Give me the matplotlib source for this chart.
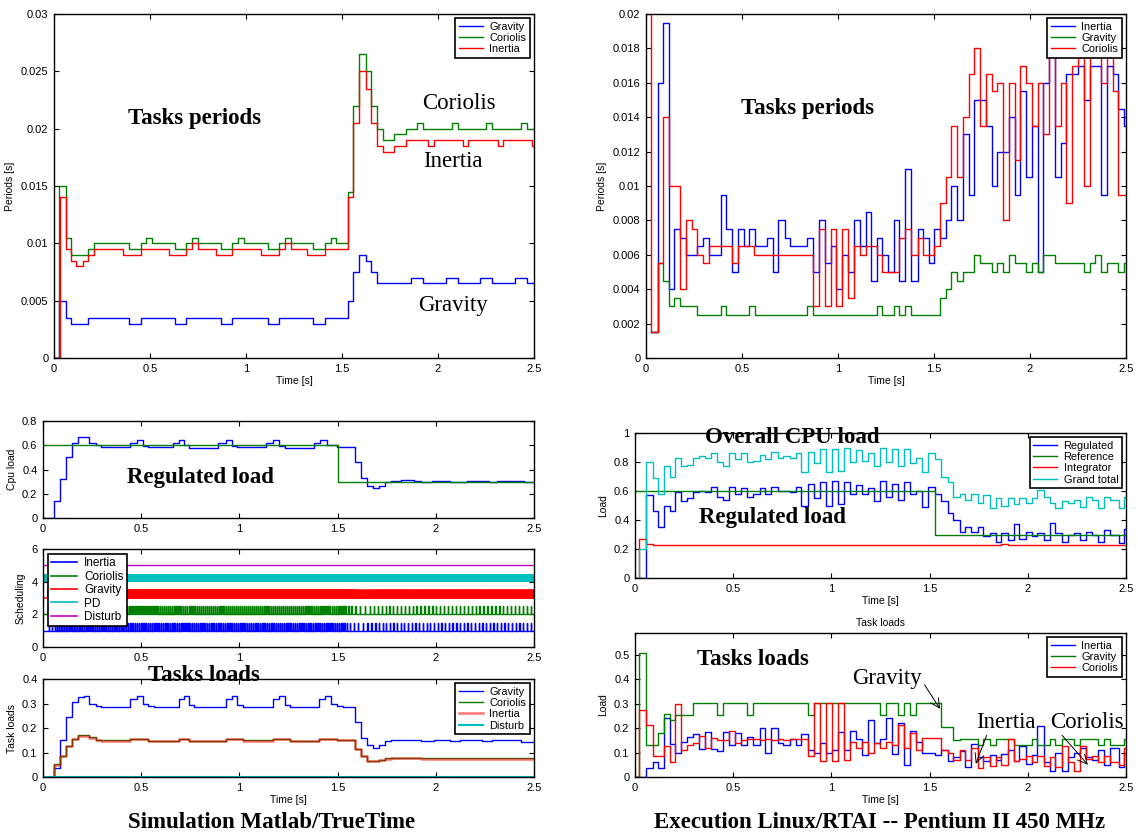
import bisect
import matplotlib
matplotlib.use('Agg')
import matplotlib.pyplot as plt
from matplotlib.lines import Line2D

plt.rcParams['font.family'] = ['Liberation Sans', 'DejaVu Sans']
plt.rcParams['font.size'] = 8

BLUE, GREEN, RED = '#0000ff', '#008000', '#ff0000'
CYAN, MAGENTA, OLIVE = '#00bfbf', '#bf00bf', '#bfbf00'
SERIF = 'Liberation Serif'
BIG = 16.5
T_END = 2.5

# ---- Simulation (Matlab/TrueTime): task periods [s], (time, value) step points
sim_gravity_period = [(0, 0), (0.024, 0.005), (0.061, 0.0035), (0.089, 0.003), (0.178, 0.0035),
                      (0.390, 0.003), (0.452, 0.0035), (0.632, 0.003), (0.688, 0.0035), (0.870, 0.003),
                      (0.929, 0.0035), (1.112, 0.003), (1.171, 0.0035), (1.349, 0.003), (1.409, 0.0035),
                      (1.530, 0.005), (1.558, 0.0075), (1.591, 0.009), (1.623, 0.0085), (1.651, 0.0075),
                      (1.682, 0.0065), (1.861, 0.007), (1.920, 0.0065), (2.041, 0.007), (2.102, 0.0065),
                      (2.221, 0.007), (2.283, 0.0065), (2.400, 0.007), (2.463, 0.0065)]
sim_coriolis_period = [(0, 0), (0.024, 0.015), (0.061, 0.0105), (0.089, 0.009), (0.178, 0.0095),
                       (0.210, 0.010), (0.390, 0.0095), (0.452, 0.010), (0.480, 0.0105), (0.513, 0.010),
                       (0.632, 0.0095), (0.688, 0.010), (0.717, 0.0105), (0.749, 0.010), (0.870, 0.0095),
                       (0.929, 0.010), (0.959, 0.0105), (0.991, 0.010), (1.112, 0.0095), (1.171, 0.010),
                       (1.201, 0.0105), (1.232, 0.010), (1.349, 0.0095), (1.409, 0.010), (1.442, 0.0105),
                       (1.470, 0.010), (1.530, 0.0145), (1.558, 0.022), (1.591, 0.0265), (1.623, 0.025),
                       (1.651, 0.022), (1.682, 0.020), (1.712, 0.019), (1.771, 0.0195), (1.831, 0.020),
                       (1.892, 0.0205), (1.920, 0.020), (2.072, 0.0205), (2.102, 0.020), (2.251, 0.0205),
                       (2.283, 0.020), (2.431, 0.0205), (2.463, 0.020)]
sim_inertia_period = [(0, 0), (0.033, 0.014), (0.061, 0.0095), (0.089, 0.0085), (0.117, 0.008),
                      (0.149, 0.0085), (0.178, 0.009), (0.210, 0.0095), (0.359, 0.009), (0.452, 0.0095),
                      (0.600, 0.009), (0.688, 0.0095), (0.717, 0.010), (0.749, 0.0095), (0.842, 0.009),
                      (0.929, 0.0095), (1.080, 0.009), (1.171, 0.0095), (1.201, 0.010), (1.232, 0.0095),
                      (1.320, 0.009), (1.409, 0.0095), (1.530, 0.014), (1.558, 0.0205), (1.591, 0.025),
                      (1.623, 0.0235), (1.651, 0.0205), (1.682, 0.0185), (1.712, 0.018), (1.771, 0.0185),
                      (1.831, 0.019), (1.948, 0.0185), (1.980, 0.019), (2.128, 0.0185), (2.158, 0.019),
                      (2.310, 0.0185), (2.338, 0.019), (2.491, 0.0185)]

# ---- Simulation: CPU load and task loads
sim_cpu_regulated = [(0, 0), (0.054, 0.14), (0.087, 0.32), (0.118, 0.50), (0.149, 0.62), (0.178, 0.665),
                     (0.236, 0.62), (0.269, 0.60), (0.294, 0.585), (0.445, 0.62), (0.478, 0.64),
                     (0.508, 0.59), (0.536, 0.585), (0.660, 0.62), (0.690, 0.64), (0.717, 0.60),
                     (0.744, 0.58), (0.890, 0.62), (0.930, 0.64), (0.960, 0.59), (0.990, 0.585),
                     (1.135, 0.62), (1.170, 0.64), (1.200, 0.59), (1.230, 0.575), (1.380, 0.62),
                     (1.410, 0.64), (1.444, 0.60), (1.498, 0.585), (1.589, 0.46), (1.620, 0.33),
                     (1.652, 0.26), (1.680, 0.245), (1.710, 0.265), (1.740, 0.295), (1.770, 0.305),
                     (1.825, 0.31), (1.890, 0.305), (1.925, 0.295), (1.980, 0.305), (2.070, 0.30),
                     (2.120, 0.295), (2.160, 0.305), (2.270, 0.295), (2.310, 0.305), (2.450, 0.295)]
sim_cpu_reference = [(0, 0.6), (1.5, 0.3)]

sim_load_gravity = [(0, 0), (0.054, 0.035), (0.087, 0.15), (0.118, 0.245), (0.149, 0.305), (0.178, 0.325),
                    (0.209, 0.33), (0.236, 0.30), (0.269, 0.29), (0.294, 0.285), (0.445, 0.32),
                    (0.478, 0.33), (0.508, 0.30), (0.536, 0.29), (0.563, 0.285), (0.690, 0.32),
                    (0.717, 0.33), (0.744, 0.295), (0.770, 0.285), (0.930, 0.32), (0.960, 0.33),
                    (0.990, 0.295), (1.017, 0.285), (1.170, 0.32), (1.200, 0.33), (1.230, 0.295),
                    (1.256, 0.285), (1.403, 0.32), (1.438, 0.33), (1.467, 0.30), (1.498, 0.29),
                    (1.529, 0.285), (1.589, 0.225), (1.620, 0.16), (1.652, 0.13), (1.680, 0.12),
                    (1.710, 0.13), (1.740, 0.148), (1.770, 0.152), (1.925, 0.145), (1.990, 0.152),
                    (2.070, 0.145), (2.125, 0.152), (2.233, 0.145), (2.288, 0.152), (2.433, 0.143)]
sim_load_coriolis = [(0, 0), (0.054, 0.052), (0.087, 0.087), (0.118, 0.127), (0.149, 0.157),
                     (0.178, 0.170), (0.236, 0.162), (0.269, 0.153), (0.294, 0.149), (0.445, 0.156),
                     (0.536, 0.146), (0.690, 0.156), (0.744, 0.146), (0.930, 0.156), (1.017, 0.149),
                     (1.170, 0.156), (1.256, 0.146), (1.403, 0.156), (1.498, 0.151), (1.589, 0.116),
                     (1.620, 0.086), (1.652, 0.066), (1.710, 0.071), (1.740, 0.076), (1.770, 0.079),
                     (1.925, 0.076)]
sim_load_inertia = [(0, 0), (0.054, 0.05), (0.087, 0.085), (0.118, 0.125), (0.149, 0.155),
                    (0.178, 0.168), (0.236, 0.16), (0.269, 0.152), (0.294, 0.148), (0.445, 0.155),
                    (0.536, 0.145), (0.690, 0.155), (0.744, 0.145), (0.930, 0.155), (1.017, 0.148),
                    (1.170, 0.155), (1.256, 0.145), (1.403, 0.155), (1.498, 0.15), (1.589, 0.115),
                    (1.620, 0.085), (1.652, 0.065), (1.710, 0.07), (1.740, 0.075), (1.770, 0.078),
                    (1.925, 0.075)]
sim_load_disturb = [(0, 0)]

# scheduling levels: Inertia, Coriolis, Gravity, PD, Disturb (and idle line on top)
sched_names = ['Inertia', 'Coriolis', 'Gravity', 'PD', 'Disturb']
sched_base = [1, 2, 3, 4, 5]
sched_top_line = 6
sched_height = 0.5

# ---- Execution (Linux/RTAI): task periods [s]
rt_inertia_period = [(0.026, 0.0015), (0.061, 0.016), (0.087, 0.0195), (0.118, 0.004), (0.148, 0.0075),
                     (0.177, 0.007), (0.209, 0.006), (0.268, 0.0065), (0.299, 0.007), (0.327, 0.006),
                     (0.390, 0.0095), (0.417, 0.0075), (0.449, 0.005), (0.480, 0.0075), (0.510, 0.0065),
                     (0.539, 0.0075), (0.570, 0.0065), (0.630, 0.007), (0.661, 0.005), (0.690, 0.008),
                     (0.722, 0.007), (0.751, 0.0065), (0.840, 0.007), (0.870, 0.005), (0.901, 0.008),
                     (0.932, 0.0055), (0.963, 0.0065), (0.991, 0.004), (1.023, 0.006), (1.052, 0.005),
                     (1.082, 0.008), (1.113, 0.0065), (1.144, 0.0085), (1.174, 0.0045), (1.203, 0.007),
                     (1.230, 0.006), (1.260, 0.005), (1.290, 0.008), (1.320, 0.0045), (1.350, 0.011),
                     (1.380, 0.0045), (1.417, 0.0075), (1.443, 0.007), (1.474, 0.0055), (1.500, 0.0075),
                     (1.530, 0.007), (1.564, 0.008), (1.590, 0.010), (1.620, 0.008), (1.650, 0.013),
                     (1.680, 0.0095), (1.710, 0.015), (1.770, 0.0135), (1.800, 0.010), (1.830, 0.012),
                     (1.890, 0.014), (1.920, 0.0095), (1.950, 0.0155), (1.980, 0.0105), (2.010, 0.0135),
                     (2.040, 0.005), (2.070, 0.016), (2.100, 0.018), (2.130, 0.0105), (2.160, 0.0125),
                     (2.190, 0.0165), (2.250, 0.017), (2.280, 0.015), (2.310, 0.017), (2.370, 0.0095),
                     (2.400, 0.017), (2.430, 0.0165), (2.460, 0.0145), (2.490, 0.0135)]
rt_gravity_period = [(0.026, 0.0015), (0.061, 0.0055), (0.087, 0.0045), (0.118, 0.003), (0.148, 0.0035),
                     (0.177, 0.003), (0.268, 0.0025), (0.390, 0.003), (0.417, 0.0025), (0.539, 0.003),
                     (0.570, 0.0025), (0.840, 0.003), (0.870, 0.0025), (1.203, 0.003), (1.230, 0.0025),
                     (1.290, 0.003), (1.320, 0.0025), (1.350, 0.003), (1.380, 0.0025), (1.530, 0.0035),
                     (1.564, 0.004), (1.590, 0.005), (1.620, 0.0045), (1.650, 0.005), (1.710, 0.006),
                     (1.740, 0.0055), (1.800, 0.005), (1.830, 0.0055), (1.860, 0.005), (1.890, 0.006),
                     (1.920, 0.0055), (1.980, 0.005), (2.010, 0.0055), (2.040, 0.005), (2.070, 0.006),
                     (2.130, 0.0055), (2.280, 0.005), (2.310, 0.0055), (2.340, 0.006), (2.370, 0.005),
                     (2.400, 0.0055), (2.460, 0.005), (2.490, 0.0055)]
rt_coriolis_period = [(0.0, 0.03), (0.026, 0.0015), (0.061, 0.0055), (0.087, 0.014), (0.118, 0.010),
                      (0.177, 0.004), (0.209, 0.008), (0.237, 0.0075), (0.268, 0.006), (0.299, 0.0055),
                      (0.327, 0.0065), (0.449, 0.0055), (0.480, 0.0065), (0.565, 0.006), (0.870, 0.003),
                      (0.901, 0.0075), (0.932, 0.003), (0.963, 0.0075), (0.991, 0.003), (1.023, 0.0075),
                      (1.052, 0.0035), (1.082, 0.0065), (1.113, 0.006), (1.144, 0.0065), (1.203, 0.006),
                      (1.230, 0.005), (1.320, 0.007), (1.350, 0.0075), (1.380, 0.006), (1.417, 0.007),
                      (1.443, 0.006), (1.500, 0.0065), (1.530, 0.009), (1.564, 0.0105), (1.590, 0.0135),
                      (1.620, 0.0105), (1.650, 0.014), (1.680, 0.0165), (1.710, 0.018), (1.740, 0.0135),
                      (1.770, 0.0165), (1.800, 0.0155), (1.830, 0.016), (1.860, 0.008), (1.890, 0.016),
                      (1.920, 0.0115), (1.950, 0.017), (1.980, 0.016), (2.010, 0.0135), (2.040, 0.016),
                      (2.070, 0.013), (2.100, 0.018), (2.130, 0.0135), (2.160, 0.016), (2.190, 0.009),
                      (2.220, 0.017), (2.250, 0.0175), (2.280, 0.010), (2.310, 0.0175), (2.340, 0.018),
                      (2.370, 0.016), (2.400, 0.0175), (2.430, 0.0155), (2.460, 0.0095)]

# ---- Execution: loads, sampled on the controller step times [s]
rt_time = [0.000, 0.022, 0.055, 0.092, 0.118, 0.147, 0.179, 0.206, 0.234, 0.265,
           0.295, 0.326, 0.357, 0.387, 0.418, 0.450, 0.479, 0.510, 0.542, 0.571,
           0.602, 0.634, 0.663, 0.695, 0.726, 0.755, 0.787, 0.818, 0.847, 0.879,
           0.910, 0.940, 0.971, 1.002, 1.032, 1.063, 1.094, 1.124, 1.155, 1.186,
           1.216, 1.247, 1.279, 1.308, 1.339, 1.371, 1.400, 1.431, 1.463, 1.492,
           1.529, 1.560, 1.592, 1.621, 1.653, 1.680, 1.713, 1.745, 1.772, 1.805,
           1.837, 1.864, 1.898, 1.929, 1.957, 1.990, 2.021, 2.049, 2.082, 2.113,
           2.141, 2.174, 2.205, 2.233, 2.266, 2.297, 2.325, 2.358, 2.389, 2.417,
           2.440, 2.463, 2.491]
rt_grand_total = [0, 0.20, 0.80, 0.69, 0.58, 0.77, 0.70, 0.83, 0.77, 0.78,
                  0.83, 0.84, 0.83, 0.86, 0.80, 0.77, 0.86, 0.82, 0.86, 0.80,
                  0.81, 0.85, 0.82, 0.87, 0.83, 0.84, 0.83, 0.86, 0.73, 0.87,
                  0.79, 0.89, 0.73, 0.89, 0.74, 0.90, 0.80, 0.88, 0.81, 0.86,
                  0.77, 0.90, 0.80, 0.89, 0.77, 0.89, 0.79, 0.83, 0.73, 0.86,
                  0.82, 0.70, 0.66, 0.56, 0.58, 0.54, 0.58, 0.52, 0.57, 0.48,
                  0.55, 0.50, 0.55, 0.51, 0.55, 0.52, 0.55, 0.61, 0.56, 0.52,
                  0.48, 0.53, 0.52, 0.54, 0.49, 0.56, 0.54, 0.48, 0.56, 0.54,
                  0.54, 0.48, 0.56]
rt_regulated = [0, 0, 0.57, 0.46, 0.35, 0.50, 0.46, 0.59, 0.53, 0.55,
                0.59, 0.60, 0.59, 0.63, 0.56, 0.54, 0.63, 0.58, 0.62, 0.56,
                0.58, 0.62, 0.58, 0.63, 0.60, 0.60, 0.59, 0.63, 0.50, 0.65,
                0.55, 0.66, 0.50, 0.67, 0.51, 0.66, 0.58, 0.64, 0.58, 0.62,
                0.53, 0.67, 0.56, 0.65, 0.54, 0.66, 0.58, 0.60, 0.49, 0.63,
                0.58, 0.53, 0.45, 0.40, 0.32, 0.35, 0.32, 0.35, 0.29, 0.31,
                0.25, 0.31, 0.26, 0.37, 0.27, 0.32, 0.29, 0.31, 0.26, 0.38,
                0.31, 0.25, 0.30, 0.31, 0.26, 0.32, 0.30, 0.25, 0.33, 0.30,
                0.30, 0.24, 0.34]
rt_reference = [(0, 0.6), (1.529, 0.3)]
rt_integrator = [(0, 0), (0.022, 0.27), (0.055, 0.235), (0.092, 0.23), (1.864, 0.235), (1.898, 0.23)]

rt_load_gravity = [0, 0.51, 0.13, 0.13, 0.18, 0.26, 0.235, 0.255, 0.255, 0.255,
                   0.305, 0.305, 0.305, 0.305, 0.255, 0.305, 0.305, 0.305, 0.305, 0.255,
                   0.305, 0.305, 0.305, 0.305, 0.305, 0.305, 0.305, 0.305, 0.305, 0.255,
                   0.305, 0.305, 0.305, 0.305, 0.305, 0.305, 0.305, 0.305, 0.305, 0.305,
                   0.305, 0.255, 0.305, 0.305, 0.255, 0.305, 0.255, 0.305, 0.305, 0.305,
                   0.305, 0.205, 0.205, 0.15, 0.155, 0.155, 0.155, 0.13, 0.155, 0.13,
                   0.155, 0.155, 0.155, 0.13, 0.13, 0.13, 0.155, 0.13, 0.13, 0.155,
                   0.13, 0.155, 0.155, 0.13, 0.155, 0.155, 0.155, 0.13, 0.155, 0.13,
                   0.13, 0.13, 0.155]
rt_load_coriolis = [0, 0.275, 0.215, 0.085, 0.085, 0.125, 0.06, 0.30, 0.11, 0.13,
                    0.14, 0.17, 0.12, 0.16, 0.15, 0.15, 0.19, 0.14, 0.15, 0.155,
                    0.155, 0.15, 0.155, 0.15, 0.155, 0.15, 0.155, 0.155, 0.155, 0.085,
                    0.305, 0.065, 0.305, 0.065, 0.305, 0.07, 0.145, 0.12, 0.145, 0.10,
                    0.14, 0.12, 0.145, 0.13, 0.215, 0.12, 0.18, 0.11, 0.16, 0.16,
                    0.16, 0.11, 0.10, 0.07, 0.11, 0.07, 0.12, 0.035, 0.08, 0.045,
                    0.08, 0.05, 0.155, 0.065, 0.075, 0.085, 0.06, 0.085, 0.045, 0.08,
                    0.04, 0.125, 0.06, 0.025, 0.125, 0.075, 0.085, 0.06, 0.085, 0.06,
                    0.06, 0.05, 0.12]
rt_load_inertia = [0, 0, 0.035, 0.06, 0.035, 0.24, 0.135, 0.10, 0.145, 0.165,
                   0.175, 0.115, 0.185, 0.115, 0.105, 0.185, 0.13, 0.18, 0.13, 0.165,
                   0.13, 0.20, 0.10, 0.20, 0.14, 0.13, 0.155, 0.13, 0.175, 0.11,
                   0.10, 0.14, 0.10, 0.11, 0.185, 0.11, 0.19, 0.155, 0.09, 0.235,
                   0.14, 0.155, 0.24, 0.095, 0.22, 0.05, 0.19, 0.145, 0.10, 0.10,
                   0.09, 0.11, 0.065, 0.08, 0.105, 0.04, 0.135, 0.08, 0.065, 0.09,
                   0.07, 0.095, 0.11, 0.065, 0.125, 0.055, 0.09, 0.21, 0.06, 0.025,
                   0.10, 0.025, 0.08, 0.10, 0.12, 0.08, 0.07, 0.11, 0.05, 0.12,
                   0.12, 0.04, 0.10]

time_ticks = [0, 0.5, 1, 1.5, 2, 2.5]
time_labels = ['0', '0.5', '1', '1.5', '2', '2.5']


def stairs(ax, pts, **kw):
    t = [p[0] for p in pts] + [T_END]
    v = [p[1] for p in pts]
    v = v + [v[-1]]
    return ax.step(t, v, where='post', **kw)


def stairs_grid(ax, t, v, **kw):
    return ax.step(list(t) + [T_END], list(v) + [v[-1]], where='post', **kw)


def lookup(pts, x):
    ts = [p[0] for p in pts]
    i = bisect.bisect_right(ts, x) - 1
    return pts[max(i, 0)][1]


def schedule(ax, period, load, base, color):
    # one pulse per job release; job length = task load * period
    start = next(p[0] for p in period if p[1] > 0)
    xs, ys = [0, start], [base, base]
    r = start
    while r < T_END:
        per = lookup(period, r)
        w = lookup(load, r) * per
        xs += [r, r, r + w, r + w]
        ys += [base, base + sched_height, base + sched_height, base]
        r += per
    xs.append(T_END)
    ys.append(base)
    ax.plot(xs, ys, color=color, lw=1.0)


def style(ax, ylim, yticks, ylabel, xlabel=None):
    ax.set_xlim(0, T_END)
    ax.set_ylim(*ylim)
    ax.set_xticks(time_ticks)
    ax.set_xticklabels(time_labels)
    ax.set_yticks(yticks)
    ax.set_yticklabels(['%g' % y for y in yticks])
    ax.tick_params(direction='in', top=True, right=True, length=3.5, width=0.8, labelsize=8, pad=4)
    for s in ax.spines.values():
        s.set_linewidth(1.0)
    ax.set_ylabel(ylabel, fontsize=7.5)
    if xlabel:
        ax.set_xlabel(xlabel, fontsize=7.5, labelpad=2)


def legend(ax, loc, size=7.9, **kw):
    leg = ax.legend(loc=loc, fontsize=size, fancybox=False, edgecolor='black', framealpha=1,
                    borderpad=0.3, labelspacing=0.12, handlelength=2.2, handletextpad=0.6,
                    borderaxespad=0.4, **kw)
    leg.get_frame().set_linewidth(1.2)
    return leg


W, H = 1138, 838


def rect(x0, x1, y0, y1):
    return [x0 / W, 1 - y1 / H, (x1 - x0) / W, (y1 - y0) / H]


fig = plt.figure(figsize=(W / 100, H / 100), dpi=100)

# ---------------- top left: simulated periods
ax = fig.add_axes(rect(54, 534, 14, 358))
stairs(ax, sim_gravity_period, color=BLUE, lw=1, label='Gravity')
stairs(ax, sim_coriolis_period, color=GREEN, lw=1, label='Coriolis')
stairs(ax, sim_inertia_period, color=RED, lw=1, label='Inertia')
style(ax, (0, 0.03), [0, 0.005, 0.01, 0.015, 0.02, 0.025, 0.03], 'Periods [s]', 'Time [s]')
legend(ax, 'upper right')
ax.text(0.73, 0.0209, 'Tasks periods', family=SERIF, weight='bold', fontsize=BIG, ha='center', va='center')
ax.text(2.11, 0.0222, 'Coriolis', family=SERIF, fontsize=BIG, ha='center', va='center')
ax.text(2.08, 0.0171, 'Inertia', family=SERIF, fontsize=BIG, ha='center', va='center')
ax.text(2.08, 0.0046, 'Gravity', family=SERIF, fontsize=BIG, ha='center', va='center')

# ---------------- top right: RTAI periods
ax = fig.add_axes(rect(646, 1126, 14, 358))
stairs(ax, rt_inertia_period, color=BLUE, lw=1, label='Inertia')
stairs(ax, rt_gravity_period, color=GREEN, lw=1, label='Gravity')
stairs(ax, rt_coriolis_period, color=RED, lw=1, label='Coriolis')
style(ax, (0, 0.02), [0, 0.002, 0.004, 0.006, 0.008, 0.01, 0.012, 0.014, 0.016, 0.018, 0.02],
      'Periods [s]', 'Time [s]')
legend(ax, 'upper right')
ax.text(0.84, 0.01453, 'Tasks periods', family=SERIF, weight='bold', fontsize=BIG, ha='center', va='center')

# ---------------- middle left: regulated CPU load
ax = fig.add_axes(rect(43, 534, 421, 518))
stairs(ax, sim_cpu_regulated, color=BLUE, lw=1)
stairs(ax, sim_cpu_reference, color=GREEN, lw=1)
style(ax, (0, 0.8), [0, 0.2, 0.4, 0.6, 0.8], 'Cpu load')
ax.text(0.80, 0.33, 'Regulated load', family=SERIF, weight='bold', fontsize=BIG, ha='center', va='center')

# ---------------- scheduling
ax = fig.add_axes(rect(43, 534, 549, 647))
ax.axhline(sched_top_line, color=OLIVE, lw=1.2)
ax.axhline(sched_base[4], color=MAGENTA, lw=1)
ax.axhspan(sched_base[3], sched_base[3] + sched_height, color=CYAN, lw=0)
schedule(ax, sim_gravity_period, sim_load_gravity, sched_base[2], RED)
schedule(ax, sim_coriolis_period, sim_load_coriolis, sched_base[1], GREEN)
schedule(ax, sim_inertia_period, sim_load_inertia, sched_base[0], BLUE)
style(ax, (0, 6), [0, 2, 4, 6], 'Scheduling')
handles = [Line2D([], [], color=c, lw=1.2) for c in (BLUE, GREEN, RED, CYAN, MAGENTA)]
legend(ax, 'upper left', size=8.5, handles=handles, labels=sched_names)

# ---------------- bottom left: task loads
ax = fig.add_axes(rect(43, 534, 679, 777))
stairs(ax, sim_load_gravity, color=BLUE, lw=1, label='Gravity')
stairs(ax, sim_load_coriolis, color=GREEN, lw=1, label='Coriolis')
stairs(ax, sim_load_inertia, color=RED, lw=1.8, alpha=0.55, label='Inertia')
stairs(ax, sim_load_disturb, color=CYAN, lw=1.5, label='Disturb')
style(ax, (0, 0.4), [0, 0.1, 0.2, 0.3, 0.4], 'Task loads', 'Time [s]')
legend(ax, 'upper right')
ax.text(0.82, 0.416, 'Tasks loads', family=SERIF, weight='bold', fontsize=BIG, ha='center', va='center',
        clip_on=False)

# ---------------- middle right: RTAI overall load
ax = fig.add_axes(rect(635, 1126, 433, 578))
stairs_grid(ax, rt_time, rt_regulated, color=BLUE, lw=1, label='Regulated')
stairs(ax, rt_reference, color=GREEN, lw=1, label='Reference')
stairs(ax, rt_integrator, color=RED, lw=1, label='Integrator')
stairs_grid(ax, rt_time, rt_grand_total, color=CYAN, lw=1, label='Grand total')
style(ax, (0, 1), [0, 0.2, 0.4, 0.6, 0.8, 1], 'Load', 'Time [s]')
legend(ax, 'upper right')
ax.text(0.80, 0.966, 'Overall CPU load', family=SERIF, weight='bold', fontsize=BIG, ha='center', va='center')
ax.text(0.70, 0.42, 'Regulated load', family=SERIF, weight='bold', fontsize=BIG, ha='center', va='center')

# ---------------- bottom right: RTAI task loads
ax = fig.add_axes(rect(635, 1126, 633, 777))
stairs_grid(ax, rt_time, rt_load_inertia, color=BLUE, lw=1, label='Inertia')
stairs_grid(ax, rt_time, rt_load_gravity, color=GREEN, lw=1, label='Gravity')
stairs_grid(ax, rt_time, rt_load_coriolis, color=RED, lw=1, label='Coriolis')
style(ax, (0, 0.59), [0, 0.1, 0.2, 0.3, 0.4, 0.5], 'Load', 'Time [s]')
ax.set_title('Task loads', fontsize=7.5, pad=5)
legend(ax, 'upper right')
ax.text(0.60, 0.483, 'Tasks loads', family=SERIF, weight='bold', fontsize=BIG, ha='center', va='center')


def arrow(rel):
    return dict(arrowstyle='->', lw=0.7, color='black', shrinkA=0, shrinkB=0, relpos=rel)


ax.annotate('Gravity', xy=(1.553, 0.279), xytext=(1.283, 0.404), family=SERIF, fontsize=BIG,
            ha='center', va='center', arrowprops=arrow((1.0, 0.4)))
ax.annotate('Inertia', xy=(1.735, 0.054), xytext=(1.889, 0.225), family=SERIF, fontsize=BIG,
            ha='center', va='center', arrowprops=arrow((0.2, 0.05)))
ax.annotate('Coriolis', xy=(2.306, 0.05), xytext=(2.30, 0.225), family=SERIF, fontsize=BIG,
            ha='center', va='center', arrowprops=arrow((0.12, 0.05)))

# ---------------- captions
fig.text(272 / W, 1 - 822 / H, 'Simulation Matlab/TrueTime', family=SERIF, weight='bold', fontsize=BIG,
         ha='center', va='center')
fig.text(880 / W, 1 - 822 / H, 'Execution Linux/RTAI -- Pentium II 450 MHz', family=SERIF, weight='bold',
         fontsize=BIG, ha='center', va='center')

fig.savefig('out.png', dpi=100)
